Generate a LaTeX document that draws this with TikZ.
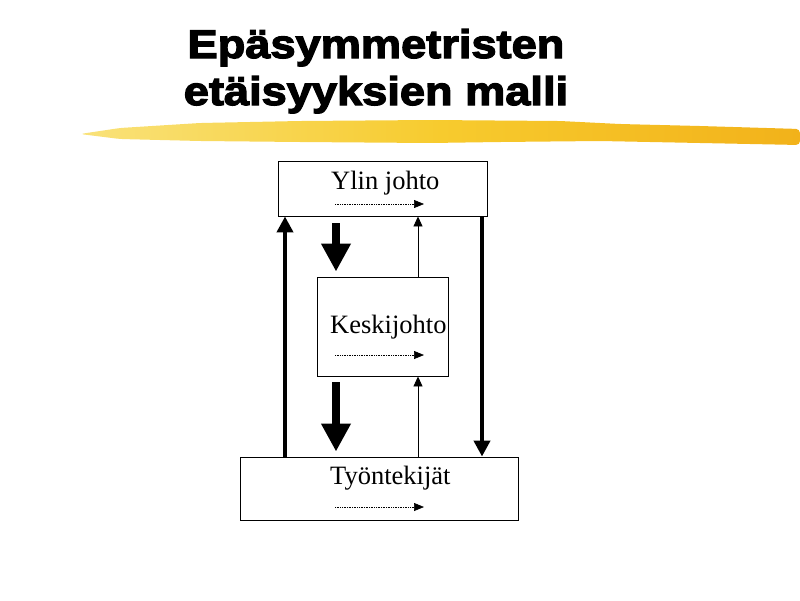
\documentclass[tikz,border=0pt]{standalone}
\usepackage{fontspec}
\setmainfont{Liberation Serif}
\newfontfamily\titlefont{Liberation Sans Bold}[FakeBold=3.2,FakeStretch=1.13]
\usetikzlibrary{positioning}
\usetikzlibrary{arrows.meta}

\definecolor{brushlight}{HTML}{F9E27A}
\definecolor{brushmid}{HTML}{F7CB2E}
\definecolor{brushdark}{HTML}{F2B21A}

\tikzset{
  levelbox/.style = {draw, line width = 0.9pt, rectangle, inner sep = 0pt},
  levellabel/.style = {anchor = base west, inner sep = 0pt, font = \fontsize{26.5}{28}\selectfont},
  dotarrow/.style = {line width = 0.7pt, dash pattern = on 0.8pt off 0.9pt, -{Triangle[length = 10pt, width = 8pt]}},
  bigarrow/.style = {line width = 8pt, -{Triangle[length = 28pt, width = 28pt]}},
  sidearrow/.style = {line width = 4pt, -{Triangle[length = 16pt, width = 16pt]}},
  thinarrow/.style = {line width = 0.9pt, -{Triangle[length = 10pt, width = 9pt]}}
}

\begin{document}
\begin{tikzpicture}[x = 1pt, y = -1pt]
							\useasboundingbox (0, 0) rectangle (800, 600);
							% title
							\node [anchor = base, inner sep = 0pt, font = \titlefont\fontsize{40}{44}\selectfont] (title1) at (376, 58) {Epäsymmetristen};
							\node [anchor = base, inner sep = 0pt, font = \titlefont\fontsize{40}{44}\selectfont] (title2) at (376, 105) {etäisyyksien malli};
							\path [left color = brushlight, right color = brushdark, middle color = brushmid, rounded corners = 4pt]
								(80, 134) -- (120, 128) -- (200, 123) -- (300, 121) -- (430, 120) -- (560, 121) -- (620, 124) -- (700, 126) -- (800, 129)
								-- (800, 145) -- (700, 143) -- (600, 141) -- (500, 142) -- (430, 143) -- (300, 142) -- (200, 141) -- (120, 139) -- cycle;
							% levels
							\node [levelbox, minimum width = 209pt, minimum height = 55pt] (ylin) at (382.5, 188.5) {};
							\node [levelbox, minimum width = 131pt, minimum height = 99pt] (keski) at (382.5, 326.5) {};
							\node [levelbox, minimum width = 278pt, minimum height = 63pt] (tyon) at (379, 488.5) {};
							\node [levellabel] (ylintext) at (331, 189) {Ylin johto};
							\node [levellabel] (keskitext) at (330, 333) {Keskijohto};
							\node [levellabel] (tyontext) at (330, 484) {Työntekijät};
							\coordinate (ylindot) at (335, 204);
							\coordinate (keskidot) at (335, 355);
							\coordinate (tyondot) at (335, 507);
							\draw [dotarrow] (ylindot) -- ++(89, 0);
							\draw [dotarrow] (keskidot) -- ++(89, 0);
							\draw [dotarrow] (tyondot) -- ++(89, 0);
							% connectors
							\draw [sidearrow] (285, 0 |- tyon.north) -- (285, 0 |- ylin.south);
							\draw [sidearrow] (482, 0 |- ylin.south) -- (482, 0 |- tyon.north);
							\draw [bigarrow, shorten < = 7pt, shorten > = 5pt] (336, 0 |- ylin.south) -- (336, 0 |- keski.north);
							\draw [bigarrow, shorten < = 6pt, shorten > = 5pt] (336, 0 |- keski.south) -- (336, 0 |- tyon.north);
							\draw [thinarrow] (418, 0 |- keski.north) -- (418, 0 |- ylin.south);
							\draw [thinarrow] (418, 0 |- tyon.north) -- (418, 0 |- keski.south);
						\end{tikzpicture}
\end{document}
